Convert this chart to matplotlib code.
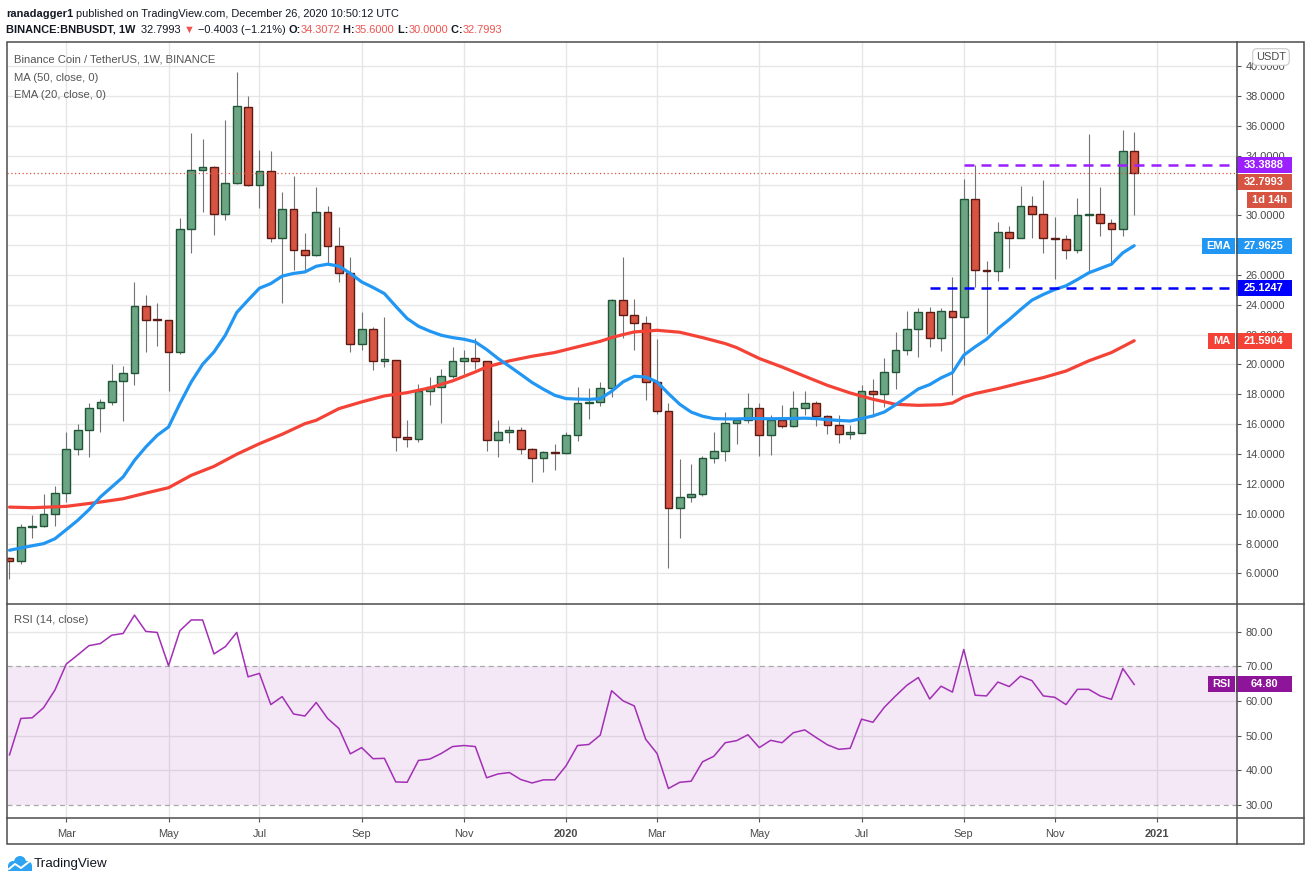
import datetime as dt
import numpy as np
import matplotlib
matplotlib.use('Agg')
import matplotlib.pyplot as plt
from matplotlib.patches import Rectangle, Ellipse
from matplotlib.lines import Line2D
from matplotlib.transforms import blended_transform_factory

plt.rcParams['font.family'] = ['Liberation Sans', 'DejaVu Sans']

# ---------------------------------------------------------------------------
# Daten: Wochenkerzen BNB/USDT ab 28.01.2019
start_week = dt.date(2019, 1, 28)

opens = [7.0, 6.8, 9.1, 9.2, 9.95, 11.4, 14.35, 15.6, 17.1, 17.5,
         18.9, 19.4, 23.95, 23.0, 22.95, 20.85, 29.1, 33.05, 33.2, 30.05,
         32.15, 37.25, 32.0, 32.95, 28.5, 30.4, 27.7, 27.35, 30.25, 27.95,
         26.1, 21.4, 22.4, 20.25, 20.3, 15.15, 15.0, 18.2, 18.5, 19.25,
         20.2, 20.4, 20.2, 14.95, 15.45, 15.6, 14.35, 13.75, 14.1, 14.05,
         15.3, 17.4, 17.5, 18.4, 24.35, 23.3, 22.8, 18.85, 16.85, 10.35,
         11.15, 11.3, 13.7, 14.2, 16.05, 16.3, 17.1, 15.3, 16.25, 15.9,
         17.05, 17.4, 16.55, 15.95, 15.35, 15.4, 18.2, 18.0, 19.5, 20.95,
         22.4, 23.5, 21.8, 23.6, 23.15, 31.1, 26.3, 26.25, 28.9, 28.5,
         30.65, 30.1, 28.5, 28.4, 27.65, 30.0, 30.05, 29.45, 29.1, 34.3072]
highs = [7.1, 9.3, 9.9, 11.3, 11.85, 15.5, 16.0, 17.45, 17.7, 20.0,
         19.9, 25.5, 24.65, 24.1, 23.0, 29.8, 35.5, 35.1, 33.3, 36.4,
         39.6, 38.0, 34.35, 34.3, 31.55, 32.6, 28.8, 31.9, 30.6, 29.2,
         27.2, 23.5, 22.5, 23.15, 20.3, 16.25, 18.7, 19.15, 19.7, 21.2,
         20.95, 21.8, 20.2, 16.3, 15.85, 15.8, 14.4, 14.2, 14.7, 15.45,
         18.5, 18.4, 18.85, 24.4, 27.2, 24.4, 23.25, 21.7, 17.45, 13.65,
         13.35, 13.85, 15.45, 16.8, 16.4, 18.1, 17.45, 16.6, 17.3, 18.2,
         18.2, 17.55, 16.6, 16.6, 15.95, 18.6, 19.0, 20.45, 22.15, 23.55,
         23.8, 23.85, 23.8, 25.85, 32.4, 33.35, 26.9, 29.55, 29.3, 31.95,
         31.3, 32.35, 29.85, 28.7, 31.15, 35.45, 31.9, 29.75, 35.7, 35.6]
lows = [5.65, 6.65, 8.4, 9.1, 9.2, 10.8, 13.95, 13.8, 15.5, 17.3,
        16.2, 18.65, 20.85, 21.25, 18.2, 20.7, 27.5, 30.2, 28.7, 29.7,
        32.1, 31.95, 30.5, 28.2, 24.1, 26.3, 26.25, 27.3, 26.7, 25.5,
        20.85, 20.95, 19.6, 19.8, 14.2, 14.5, 14.8, 17.3, 16.1, 19.1,
        19.35, 19.7, 14.2, 13.8, 14.75, 14.0, 12.1, 12.8, 12.95, 14.0,
        14.9, 16.35, 17.2, 17.8, 21.8, 21.0, 17.65, 16.7, 6.35, 8.35,
        10.8, 11.2, 13.4, 13.55, 14.65, 16.05, 13.85, 13.95, 15.75, 15.8,
        16.6, 15.9, 15.35, 14.75, 15.0, 15.4, 16.5, 17.15, 18.35, 20.65,
        20.5, 21.2, 20.9, 17.95, 19.95, 25.2, 22.05, 25.6, 26.45, 28.45,
        28.5, 27.5, 25.75, 27.05, 27.5, 26.25, 28.6, 26.7, 28.6, 30.0]
closes = [6.8, 9.1, 9.2, 9.95, 11.4, 14.35, 15.6, 17.1, 17.5, 18.9,
          19.4, 23.95, 23.0, 22.95, 20.85, 29.1, 33.05, 33.2, 30.05, 32.15,
          37.3, 32.0, 32.95, 28.5, 30.4, 27.7, 27.35, 30.25, 27.95, 26.1,
          21.4, 22.4, 20.25, 20.3, 15.15, 15.0, 18.2, 18.5, 19.25, 20.2,
          20.4, 20.2, 14.95, 15.45, 15.6, 14.35, 13.75, 14.1, 14.05, 15.3,
          17.4, 17.5, 18.4, 24.35, 23.3, 22.8, 18.85, 16.85, 10.35, 11.15,
          11.3, 13.7, 14.2, 16.05, 16.3, 17.1, 15.3, 16.25, 15.9, 17.05,
          17.4, 16.55, 15.95, 15.35, 15.4, 18.2, 18.0, 19.5, 20.95, 22.4,
          23.5, 21.8, 23.6, 23.15, 31.1, 26.3, 26.25, 28.9, 28.5, 30.65,
          30.1, 28.5, 28.4, 27.65, 30.0, 30.05, 29.45, 29.1, 34.3, 32.7993]

# EMA(20) je Kerze
ema20 = [7.55, 7.7, 7.85, 7.99, 8.32, 8.93, 9.55, 10.27, 11.12, 11.79,
         12.46, 13.57, 14.47, 15.25, 15.81, 17.38, 18.83, 20.01, 20.84, 21.96,
         23.48, 24.31, 25.11, 25.42, 25.92, 26.1, 26.2, 26.58, 26.72, 26.59,
         26.1, 25.53, 25.16, 24.75, 23.9, 23.08, 22.56, 22.23, 21.96, 21.8,
         21.69, 21.51, 21.0, 20.4, 19.88, 19.34, 18.79, 18.34, 17.93, 17.71,
         17.68, 17.66, 17.71, 18.2, 18.83, 19.21, 19.16, 18.83, 18.05, 17.33,
         16.81, 16.53, 16.37, 16.35, 16.35, 16.37, 16.37, 16.36, 16.37, 16.38,
         16.4, 16.37, 16.3, 16.25, 16.21, 16.37, 16.55, 16.81, 17.3, 17.82,
         18.36, 18.65, 19.1, 19.45, 20.62, 21.18, 21.69, 22.4, 23.01, 23.68,
         24.31, 24.69, 25.02, 25.27, 25.69, 26.14, 26.43, 26.72, 27.48, 27.96]

ma50_idx = [0, 2, 5, 8, 10, 12, 14, 16, 18, 20, 22, 24, 26, 27, 29, 31, 33, 35,
            37, 39, 41, 42, 44, 46, 48, 50, 52, 53, 54, 55, 57, 59, 61, 63, 64,
            66, 68, 70, 72, 74, 76, 78, 80, 82, 83, 84, 85, 87, 89, 91, 93, 95,
            97, 99]
ma50 = [10.44, 10.4, 10.49, 10.78, 11.0, 11.38, 11.74, 12.57, 13.17, 13.98,
        14.69, 15.32, 16.03, 16.26, 17.04, 17.49, 17.89, 18.11, 18.43, 18.9,
        19.5, 19.83, 20.24, 20.55, 20.8, 21.18, 21.55, 21.8, 22.0, 22.18,
        22.29, 22.16, 21.8, 21.4, 21.13, 20.4, 19.83, 19.21, 18.6, 18.09,
        17.67, 17.33, 17.26, 17.3, 17.42, 17.82, 18.05, 18.38, 18.76, 19.12,
        19.56, 20.24, 20.8, 21.59]

# RSI(14) je Kerze
rsi14 = [44.5, 55.0, 55.2, 58.1, 63.2, 70.7, 73.3, 76.0, 76.6, 79.0,
         79.5, 84.8, 80.1, 79.8, 70.2, 80.3, 83.4, 83.4, 73.6, 75.7,
         79.8, 67.0, 68.0, 59.0, 61.3, 56.3, 55.7, 59.6, 55.0, 52.1,
         44.8, 46.6, 43.4, 43.5, 36.7, 36.6, 42.9, 43.3, 44.9, 46.9,
         47.2, 46.9, 37.9, 39.0, 39.4, 37.4, 36.4, 37.3, 37.3, 41.4,
         47.2, 47.5, 50.2, 63.0, 60.1, 58.6, 49.0, 44.9, 34.8, 36.6,
         36.9, 42.5, 44.1, 48.0, 48.6, 50.3, 46.6, 48.7, 48.0, 50.9,
         51.7, 49.5, 47.4, 46.1, 46.4, 54.8, 53.9, 58.2, 61.5, 64.6,
         66.8, 60.6, 64.3, 62.6, 74.9, 61.7, 61.5, 65.5, 64.2, 67.2,
         65.9, 61.5, 61.1, 59.0, 63.4, 63.4, 61.5, 60.5, 69.4, 64.8]

resistance = 33.3888      # lila Linie
resistance_from = 84
support = 25.1247         # blaue Linie
support_from = 81
ema_last = 27.9625
ma_last = 21.5904
rsi_last = 64.80

price_ticks = np.arange(6, 41, 2)
hidden_ticks = (28, 32)   # liegen komplett unter den Preisschildern
rsi_ticks = [30, 40, 50, 60, 70, 80]

#-----------------------------------------------------------------------------
# Layout (Pixel)
W, H = 1311, 881
def fx(px): return px / W
def fy(py): return 1 - py / H

xmin, xmax = -0.22, 108.05

# Monats-Ticks aus dem Wochenkalender
weeks = [start_week + dt.timedelta(weeks=i) for i in range(int(xmax) + 1)]
tick_idx, tick_lab = [], []
for i in range(1, len(weeks)):
    if weeks[i].month != weeks[i - 1].month and weeks[i].month % 2 == 1:
        tick_idx.append(i)
        tick_lab.append(str(weeks[i].year) if weeks[i].month == 1 else weeks[i].strftime('%b'))

TXT = '#131722'
AXC = '#4a4a4a'
GRID = '#e6e6e6'
GREEN, GREEN_E = '#6ba583', '#225437'
RED, RED_E = '#d75442', '#5b1a13'
FS = 7.9

fig = plt.figure(figsize=(W / 100, H / 100), dpi=100)
fig.patch.set_facecolor('white')

ax = fig.add_axes([fx(7), fy(603.5), fx(1237) - fx(7), fy(42) - fy(603.5)])
axr = fig.add_axes([fx(7), fy(818), fx(1237) - fx(7), fy(604) - fy(818)], sharex=ax)

for a in (ax, axr):
    for s in a.spines.values():
        s.set_visible(False)
    a.set_axisbelow(True)

# Kerzen
x = np.arange(len(closes))
o = np.array(opens); c = np.array(closes)
up = c >= o
ax.vlines(x, lows, highs, color='#737375', lw=0.8, zorder=2)
body_lo = np.minimum(o, c)
body_h = np.maximum(np.abs(c - o), 0.1)
ax.bar(x[up], body_h[up], bottom=body_lo[up], width=0.68, color=GREEN,
       edgecolor=GREEN_E, linewidth=1.0, zorder=3)
ax.bar(x[~up], body_h[~up], bottom=body_lo[~up], width=0.68, color=RED,
       edgecolor=RED_E, linewidth=1.0, zorder=3)

# Indikatoren
ax.plot(ma50_idx, ma50, color='#f44336', lw=2.3, zorder=4, solid_capstyle='round')
ax.plot(x, ema20, color='#2196f3', lw=2.3, zorder=4, solid_capstyle='round')

# Horizontale Linien
ax.plot([resistance_from, xmax], [resistance, resistance], color='#9c1fff',
        lw=1.8, dashes=(4, 2.8), zorder=5)
ax.plot([support_from, xmax], [support, support], color='#0000ff',
        lw=1.8, dashes=(4, 2.8), zorder=5)
ax.axhline(closes[-1], color=RED, lw=0.9, ls=(0, (1, 2)), zorder=5)

# Achsen Hauptchart
ax.set_xticks(tick_idx)
ax.tick_params(axis='x', length=0, labelbottom=False)
ax.grid(True, color=GRID, lw=1)
ax.set_yticks(price_ticks)
ax.set_yticklabels(['' if v in hidden_ticks else f'{v:.4f}' for v in price_ticks])
ax.yaxis.tick_right()
ax.tick_params(axis='y', direction='out', length=3, width=0.8, color='#555555',
               labelsize=FS, labelcolor=AXC, pad=3)

# RSI
axr.axhspan(30, 70, color='#9c27b0', alpha=0.1, lw=0, zorder=1)
for lv in (40, 50, 60, 80):
    axr.axhline(lv, color=GRID, lw=1, zorder=0.5)
for lv in (30, 70):
    axr.axhline(lv, color='#a8a8a8', lw=0.9, dashes=(4, 3), zorder=1.5)
axr.plot(x, rsi14, color='#a22fb5', lw=1.1, zorder=3)
axr.grid(True, axis='x', color=GRID, lw=1)
axr.set_yticks(rsi_ticks)
axr.set_yticklabels([f'{v:.2f}' for v in rsi_ticks])
axr.yaxis.tick_right()
axr.tick_params(axis='y', direction='out', length=3, width=0.8, color='#555555',
                labelsize=FS, labelcolor=AXC, pad=3)
axr.set_xticks(tick_idx)
axr.set_xticklabels(tick_lab)
axr.tick_params(axis='x', direction='out', length=3, width=0.8, color='#555555',
                labelsize=FS, labelcolor=AXC, pad=5)
for t in axr.get_xticklabels():
    if t.get_text().isdigit():
        t.set_fontweight('bold')

# Grenzen erst nach den Ticks setzen
ax.set_xlim(xmin, xmax)
ax.set_ylim(3.98, 41.61)
axr.set_ylim(26.3, 88.0)

# Rahmen
fig.add_artist(Rectangle((fx(7), fy(844)), fx(1304) - fx(7), fy(42) - fy(844),
                         transform=fig.transFigure, fill=False, ec='#4d4d4d', lw=1.1))
for yy in (603.5, 818):
    fig.add_artist(Line2D([fx(7), fx(1304)], [fy(yy), fy(yy)], color='#4d4d4d', lw=1.1))
fig.add_artist(Line2D([fx(1237), fx(1237)], [fy(42), fy(844)], color='#4d4d4d', lw=1.1))

# Preisschilder rechts
def tag(axis, value, label, fc, x0, x1, dy=0, h=16):
    lo, hi = axis.get_ylim()
    ppu = axis.get_position().height * H / (hi - lo)
    yc = value - dy / ppu
    tr = blended_transform_factory(fig.transFigure, axis.transData)
    axis.add_patch(Rectangle((x0 / W, yc - h / 2 / ppu), (x1 - x0) / W, h / ppu,
                             transform=tr, fc=fc, ec='none', clip_on=False, zorder=10))
    axis.text((x0 + x1) / 2 / W, yc, label, transform=tr, ha='center', va='center',
              color='white', fontsize=FS, fontweight='bold', clip_on=False, zorder=11)

tag(ax, resistance, f'{resistance:.4f}', '#9c1fff', 1236, 1292)
tag(ax, closes[-1], f'{closes[-1]:.4f}', RED, 1236, 1292, dy=9)
tag(ax, closes[-1], '1d 14h', RED, 1247, 1292, dy=27)
tag(ax, ema_last, f'{ema_last:.4f}', '#2196f3', 1236, 1292)
tag(ax, ema_last, 'EMA', '#2196f3', 1202, 1235)
tag(ax, support, f'{support:.4f}', '#0000ff', 1236, 1292)
tag(ax, ma_last, f'{ma_last:.4f}', '#f44336', 1236, 1292)
tag(ax, ma_last, 'MA', '#f44336', 1208, 1235)
tag(axr, rsi_last, f'{rsi_last:.2f}', '#8e1599', 1236, 1292)
tag(axr, rsi_last, 'RSI', '#8e1599', 1208, 1235)

fig.text(fx(1271), fy(57), 'USDT', ha='center', va='center', fontsize=FS, color=AXC,
         bbox=dict(boxstyle='round,pad=0.3,rounding_size=0.4', fc='white', ec='#c8c8c8', lw=0.8),
         zorder=12)

# Legenden im Chart
for yy, s in ((60, 'Binance Coin / TetherUS, 1W, BINANCE'), (78, 'MA (50, close, 0)'),
              (95, 'EMA (20, close, 0)'), (620, 'RSI (14, close)')):
    fig.text(fx(14), fy(yy), s, fontsize=8.1, color='#555555', va='center')

# Kopfzeilen mit mehrfarbigem Text
renderer = fig.canvas.get_renderer()
def seq_text(x0, y0, parts, size=7.9):
    xp = x0
    for s, col, wt in parts:
        t = fig.text(fx(xp), fy(y0), s, fontsize=size, color=col, fontweight=wt, va='center')
        xp += t.get_window_extent(renderer).width

HRED = '#ef5350'
seq_text(6, 14, [('ranadagger1', TXT, 'bold'),
                 (' published on TradingView.com, December 26, 2020 10:50:12 UTC', TXT, 'normal')])
seq_text(6, 30, [('BINANCE:BNBUSDT, 1W', TXT, 'bold'), ('  32.7993 ', TXT, 'normal'),
                 ('▼', HRED, 'normal'), (' \u22120.4003 (\u22121.21%) ', TXT, 'normal'),
                 ('O:', TXT, 'bold'), ('34.3072', HRED, 'normal'),
                 (' H:', TXT, 'bold'), ('35.6000', HRED, 'normal'),
                 (' L:', TXT, 'bold'), ('30.0000', HRED, 'normal'),
                 (' C:', TXT, 'bold'), ('32.7993', HRED, 'normal')])

# Logo unten links
LOGO = '#2ea3f2'
for cx, cy, r in ((13, 866, 5.0), (20, 862, 6.0), (27, 866, 5.0)):
    fig.add_artist(Ellipse((fx(cx), fy(cy)), 2 * r / W, 2 * r / H,
                           transform=fig.transFigure, fc=LOGO, ec='none'))
fig.add_artist(Rectangle((fx(8), fy(871)), fx(32) - fx(8), 5 / H,
                         transform=fig.transFigure, fc=LOGO, ec='none'))
fig.add_artist(Line2D([fx(9), fx(15), fx(21), fx(30)], [fy(869), fy(864), fy(868), fy(861)],
                      color='white', lw=1.4))
fig.text(fx(34), fy(864), 'TradingView', fontsize=9.6, color=TXT, va='center')

fig.savefig('out.png', dpi=100)
